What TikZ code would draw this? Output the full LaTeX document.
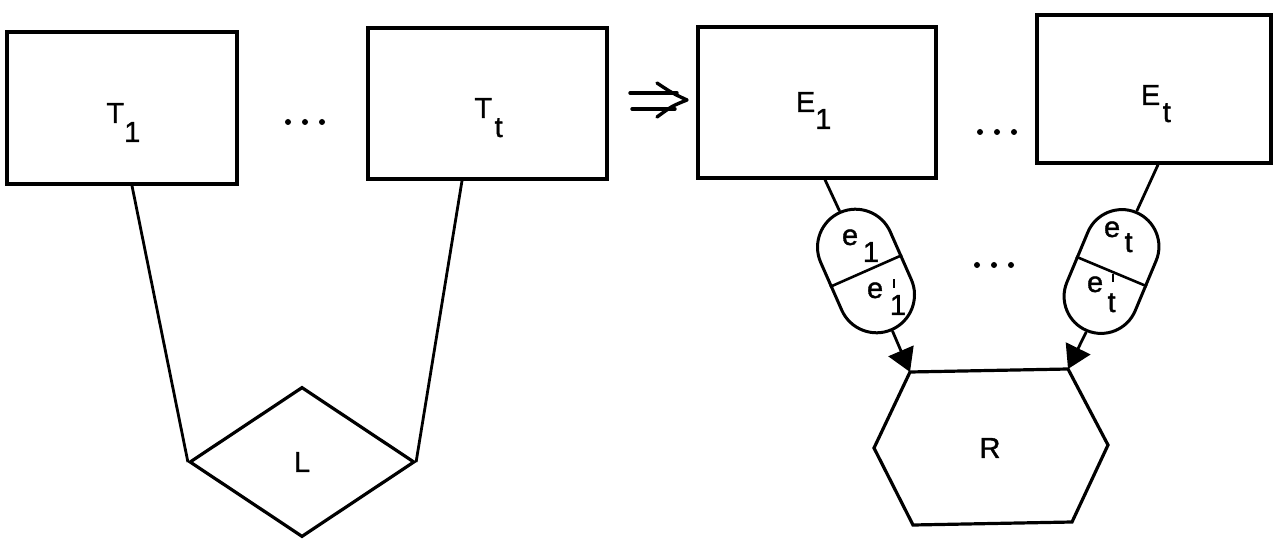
\documentclass[tikz,border=0pt]{standalone}
\usepackage{fontspec}
\setmainfont{Liberation Sans}[FakeBold=1.2]
\usetikzlibrary{shapes.geometric,shapes.misc,arrows.meta,calc}
\begin{document}
\begin{tikzpicture}[x=1pt,y=-1pt,
  every node/.style={font=\fontsize{29}{31}\selectfont},
  box/.style={draw, line width=3.5pt, inner sep=0pt},
  conn/.style={line width=2.8pt},
  lbl/.style={anchor=base west, inner sep=0pt},
  pill/.style={draw, rounded rectangle, line width=3pt, minimum width=128pt, minimum height=76pt, inner sep=0pt},
  tip/.style={-{Triangle[length=23pt,width=27pt]}}]
\useasboundingbox (0,0) rectangle (1276,545);
% boxes
\node[box, minimum width=230pt, minimum height=152pt] (T1) at (122,108) {};
\node[box, minimum width=239pt, minimum height=151pt] (Tt) at (487.5,103.5) {};
\node[box, minimum width=238pt, minimum height=151pt] (E1) at (817,102.5) {};
\node[box, minimum width=234pt, minimum height=148pt] (Et) at (1154,89) {};
% box labels
\node[lbl] (lT1) at (106.3,123) {T\kern0pt\raisebox{-19pt}{1}};
\node[lbl] (lTt) at (474.3,118) {T\kern2.5pt\raisebox{-19pt}{t}};
\node[lbl] (lE1) at (795.7,112) {E\kern0pt\raisebox{-17pt}{1}};
\node[lbl] (lEt) at (1140.7,105) {E\kern2.5pt\raisebox{-17pt}{t}};
% dots
\fill (288,122) circle (3pt) (305,122) circle (3pt) (322,122) circle (3pt);
\fill (980,132) circle (3pt) (997,132) circle (3pt) (1014,132) circle (3pt);
\fill (977,265) circle (3pt) (994,265) circle (3pt) (1011,265) circle (3pt);
% implies arrow
\draw[line width=3.4pt, line cap=round] (630,93) -- (677,93) (632,109) -- (675,109);
\draw[line width=3.4pt, line cap=round, line join=round] (657,83) .. controls (672,93) .. (687,100) .. controls (672,106) .. (657,117);
% diamond
\node[draw, diamond, line width=3.2pt, minimum width=225pt, minimum height=150pt, inner sep=0pt] (L) at (302,462) {L};
\draw[conn] ($(T1.south)+(10,0)$) -- (L.west);
\draw[conn] ($(Tt.south)+(-25.5,0)$) -- (L.east);
% capsules
\node[pill, rotate=113.8] (c1) at (866,271) {};
\node[pill, rotate=67.3, minimum height=74pt] (c2) at (1111.5,271.5) {};
\draw[line width=2.6pt] (c1.north) -- (c1.south);
\draw[line width=2.6pt] (c2.north) -- (c2.south);
\node[lbl] (le1) at (841.8,245) {e\kern4.8pt\raisebox{-17pt}{1}};
\node[lbl] (le1p) at (866.8,298) {e\kern6.8pt\rlap{\kern2.7pt\raisebox{10pt}{\rule{2.4pt}{9pt}}}\raisebox{-17pt}{1}};
\node[lbl] (let) at (1103.8,237) {e\kern4.5pt\raisebox{-15pt}{t}};
\node[lbl] (letp) at (1086.8,292) {e\kern4.5pt\rlap{\kern4pt\raisebox{10pt}{\rule{2.4pt}{8pt}}}\raisebox{-20pt}{t}};
\draw[conn] ($(E1.south)+(8,0)$) -- (c1.east);
\draw[conn] ($(Et.south)+(4,0)$) -- (c2.east);
% hexagon
\coordinate (Rtl) at (910,372);
\coordinate (Rtr) at (1068,369);
\coordinate (Rr) at (1108,445);
\coordinate (Rbr) at (1072,522);
\coordinate (Rbl) at (913,525);
\coordinate (Rl) at (874,448);
\draw[line width=3.2pt] (Rtl) -- (Rtr) -- (Rr) -- (Rbr) -- (Rbl) -- (Rl) -- cycle;
\node (R) at (990,448) {R};
\draw[conn, tip] (c1.west) -- (Rtl);
\draw[conn, tip] (c2.west) -- (Rtr);
\end{tikzpicture}
\end{document}
